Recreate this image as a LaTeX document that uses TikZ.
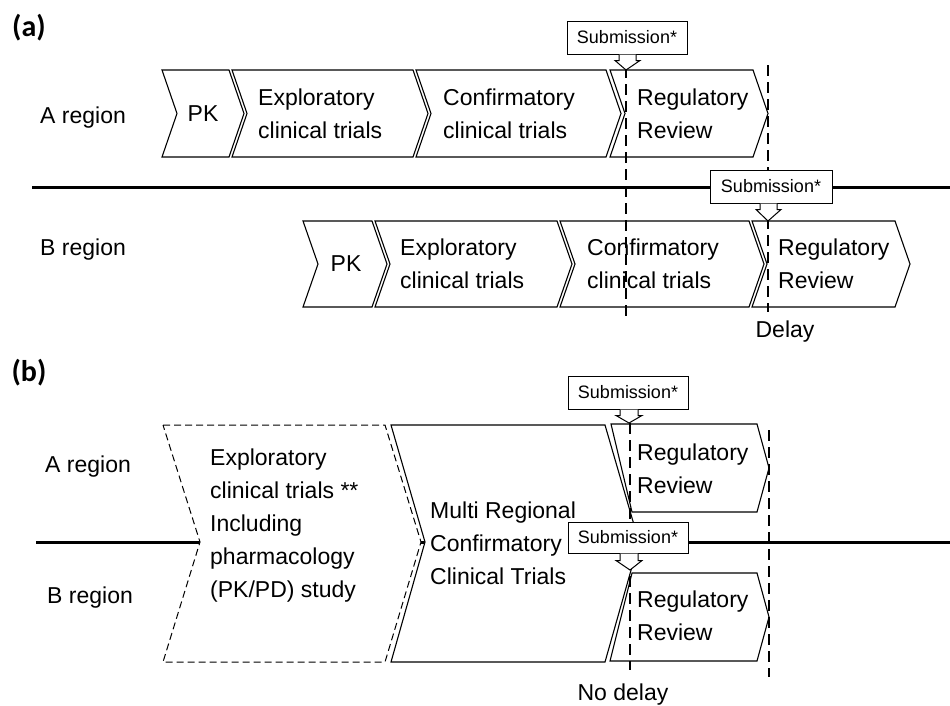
\documentclass[tikz,border=0pt]{standalone}
\usepackage{fontspec}
\setmainfont{Liberation Sans}
\newfontfamily\panelfont{Carlito}

\begin{document}
\begin{tikzpicture}[x=1pt,y=-1pt,
  stage/.style={draw,fill=white,line width=1.1pt},
  txt/.style={align=left,anchor=west,inner sep=0pt,font=\fontsize{23}{33}\selectfont},
  sub/.style={draw,fill=white,line width=1pt,minimum width=120pt,minimum height=33pt,inner sep=0pt,font=\fontsize{18}{18}\selectfont},
  sep/.style={line width=3pt},
  cut/.style={line width=2.8pt,dash pattern=on 11pt off 6pt}]
  \useasboundingbox (0,0) rectangle (950,705);

  % (a) sequential development
  \node[font=\panelfont\bfseries\fontsize{30}{30}\selectfont] (pa) at (29,28) {(a)};
  \draw[sep] (32,187) -- (950,187);
  \foreach \a/\b in {162/229,232/413,416/606,610/753}
    \draw[stage] (\a,70) -- (\b,70) -- (\b+15,113.5) -- (\b,157) -- (\a,157) -- (\a+15,113.5) -- cycle;
  \foreach \a/\b in {303/372,375/557,560/749,752/895}
    \draw[stage] (\a,221) -- (\b,221) -- (\b+15,264) -- (\b,307) -- (\a,307) -- (\a+15,264) -- cycle;
  \node[txt] (ara) at (40,118) {A region};
  \node[txt] (arb) at (40,250) {B region};
  \node[font=\fontsize{23}{23}\selectfont] (apka) at (203,113.5) {PK};
  \node[txt] (aexa) at (258,113.5) {Exploratory\\clinical trials};
  \node[txt] (acfa) at (443,113.5) {Confirmatory\\clinical trials};
  \node[txt] (arva) at (637,113.5) {Regulatory\\Review};
  \node[font=\fontsize{23}{23}\selectfont] (apkb) at (346,264) {PK};
  \node[txt] (aexb) at (400,264) {Exploratory\\clinical trials};
  \node[txt] (acfb) at (587,264) {Confirmatory\\clinical trials};
  \node[txt] (arvb) at (778,264) {Regulatory\\Review};
  \coordinate (tipaa) at (626,70);
  \coordinate (tipab) at (768,221);
  \coordinate (endaa) at (626,316);
  \coordinate (endab) at (768,312);
  \draw[cut] (626,67) -- (endaa);
  \draw[cut] (768,65) -- (endab);
  \node[sub] (subaa) at (627,37.5) {Submission*};
  \draw[fill=white,line width=1pt] ([xshift=-8pt]subaa.south) -- ++(0,6) -- ++(-4,0) -- (tipaa)
    -- ([xshift=13pt,yshift=-6pt]subaa.south) -- ++(-4,0) -- ([xshift=9pt]subaa.south);
  \node[sub,minimum width=122pt] (subab) at (771,186.5) {Submission*};
  \draw[fill=white,line width=1pt] ([xshift=-11pt]subab.south) -- ++(0,6) -- ++(-4,0) -- (tipab)
    -- ([xshift=10pt,yshift=-6pt]subab.south) -- ++(-4,0) -- ([xshift=6pt]subab.south);
  \node[font=\fontsize{23}{23}\selectfont] (delay) at (785,332) {Delay};

  % (b) multi regional trial
  \node[font=\panelfont\bfseries\fontsize{30}{30}\selectfont] (pb) at (29,373) {(b)};
  \draw[sep] (36,542) -- (950,542);
  \draw[stage,line width=1pt,dash pattern=on 7pt off 4pt] (163,425) -- (385,425) -- (421,542) -- (385,662) -- (163,662) -- (200,542) -- cycle;
  \draw[stage] (391,425) -- (605,425) -- (639,542) -- (605,662) -- (391,662) -- (425,542) -- cycle;
  \draw[stage] (611,424) -- (757,424) -- (769,468) -- (757,512) -- (632,512) -- cycle;
  \draw[stage] (632,573) -- (757,573) -- (769,617) -- (757,661) -- (610,661) -- cycle;
  \node[txt] (bra) at (45,467) {A region};
  \node[txt] (brb) at (47,598) {B region};
  \node[txt] (bex) at (210,526) {Exploratory\\clinical trials **\\Including\\pharmacology\\(PK/PD) study};
  \node[txt] (bmr) at (430,543) {Multi Regional\\Confirmatory\\Clinical Trials};
  \node[txt] (brva) at (637,469) {Regulatory\\Review};
  \node[txt] (brvb) at (637,616) {Regulatory\\Review};
  \coordinate (tipba) at (629,423);
  \coordinate (tipbb) at (630,570);
  \coordinate (endba) at (630,670);
  \coordinate (endbb) at (769,677);
  \draw[cut] (630,423) -- (endba);
  \draw[cut] (769,430) -- (endbb);
  \node[sub] (subba) at (628,392.5) {Submission*};
  \draw[fill=white,line width=1pt] ([xshift=-8pt]subba.south) -- ++(0,6) -- ++(-4,0) -- (tipba)
    -- ([xshift=14pt,yshift=-6pt]subba.south) -- ++(-4,0) -- ([xshift=10pt]subba.south);
  \node[sub,minimum height=31pt] (subbb) at (628,537.5) {Submission*};
  \draw[fill=white,line width=1pt] ([xshift=-8pt]subbb.south) -- ++(0,7) -- ++(-4,0) -- (tipbb)
    -- ([xshift=14pt,yshift=-7pt]subbb.south) -- ++(-4,0) -- ([xshift=10pt]subbb.south);
  \node[font=\fontsize{23}{23}\selectfont] (nodelay) at (623,695) {No delay};
\end{tikzpicture}
\end{document}
